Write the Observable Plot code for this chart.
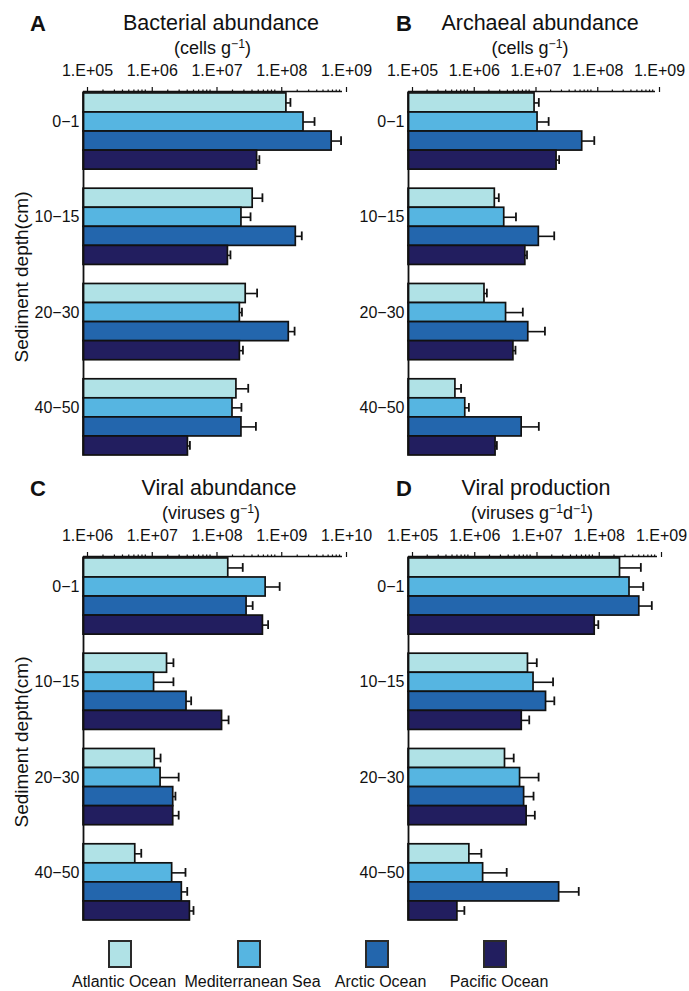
<!DOCTYPE html>
<html><head><meta charset="utf-8">
<script src="https://cdn.jsdelivr.net/npm/d3@7"></script>
<script src="https://cdn.jsdelivr.net/npm/@observablehq/plot@0.6"></script>
<style>
body{margin:0;background:#fff;font-family:"Liberation Sans",Arial,sans-serif;}
#page{position:relative;width:689px;height:991px;overflow:hidden;background:#fff;}
.abs{position:absolute;white-space:nowrap;line-height:1;color:#111;text-align:center;}
.abs sup{font-size:0.68em;vertical-align:0.5em;line-height:0;}
.plotbox{position:absolute;left:0;}
</style></head><body><div id="page"></div>
<script>
// ---- categories ----
const depths = ["0−1", "10−15", "20−30", "40−50"];
const oceans = ["Atlantic Ocean", "Mediterranean Sea", "Arctic Ocean", "Pacific Ocean"];
const oceanColors = ["#b0e2e6", "#56b5e1", "#2366ad", "#221e5f"];

// ---- tick values / labels ----
const decadesAB = [1e5, 1e6, 1e7, 1e8, 1e9];
const labelsAB = ["1.E+05", "1.E+06", "1.E+07", "1.E+08", "1.E+09"];
const decadesC = [1e6, 1e7, 1e8, 1e9, 1e10];
const labelsC = ["1.E+06", "1.E+07", "1.E+08", "1.E+09", "1.E+10"];
const decadesD = [1e5, 1e6, 1e7, 1e8, 1e9];
const labelsD = ["1.E+05", "1.E+06", "1.E+07", "1.E+08", "1.E+09"];

// ---- series values: rows = depth, columns = ocean (Atlantic, Mediterranean, Arctic, Pacific) ----
const bacteriaMean = [
  [1.36e8, 2.5e8, 6.8e8, 4.8e7],
  [4.1e7, 2.75e7, 1.9e8, 1.7e7],
  [3.2e7, 2.6e7, 1.48e8, 2.6e7],
  [2.3e7, 2.0e7, 2.75e7, 4.1e6]
];
const bacteriaErr = [
  [2.1e7, 1.2e8, 2.7e8, 4e6],
  [1.7e7, 1.05e7, 4.5e7, 1.6e6],
  [1.6e7, 2e6, 3.4e7, 3e6],
  [1.2e7, 7.5e6, 1.85e7, 3e5]
];
const archaeaMean = [
  [1.1e7, 1.23e7, 6.5e7, 2.5e7],
  [2.5e6, 3.55e6, 1.29e7, 7.8e6],
  [1.7e6, 3.8e6, 8.7e6, 5.0e6],
  [5.75e5, 8.3e5, 6.8e6, 2.57e6]
];
const archaeaErr = [
  [1.9e6, 6.3e6, 3.7e7, 2.5e6],
  [4e5, 1.95e6, 1.0e7, 5e5],
  [1.6e5, 3.3e6, 7.5e6, 4e5],
  [1.35e5, 1.2e5, 6.1e6, 1.3e5]
];
const virusMean = [
  [1.72e8, 6.5e8, 3.3e8, 5.9e8],
  [1.95e7, 1.23e7, 3.9e7, 1.38e8],
  [1.26e7, 1.55e7, 2.43e7, 2.43e7],
  [6.3e6, 2.34e7, 3.3e7, 4.4e7]
];
const virusErr = [
  [1.16e8, 4.2e8, 8e7, 1.2e8],
  [5e6, 1.22e7, 7e6, 3.6e7],
  [2.9e6, 1.4e7, 2e6, 5.2e6],
  [1.5e6, 1.42e7, 7e6, 6e6]
];
const productionMean = [
  [2.5e8, 3.55e8, 5.1e8, 9.8e7],
  [8.3e6, 1.02e7, 1.62e7, 6.6e6],
  [3.55e6, 6.2e6, 7.2e6, 7.9e6],
  [9.5e5, 1.58e6, 2.63e7, 6.1e5]
];
const productionErr = [
  [2.9e8, 2.35e8, 3.0e8, 1.4e7],
  [3.2e6, 1.08e7, 5.8e6, 2.1e6],
  [1.35e6, 6.1e6, 3.0e6, 2.8e6],
  [5.3e5, 2.2e6, 2.8e7, 1.8e5]
];

// ---- text ----
const panelLetters = ["A", "B", "C", "D"];
const panelTitles = ["Bacterial abundance", "Archaeal abundance", "Viral abundance", "Viral production"];
const panelUnits = ["(cells g<sup>−1</sup>)", "(cells g<sup>−1</sup>)", "(viruses g<sup>−1</sup>)", "(viruses g<sup>−1</sup>d<sup>−1</sup>)"];
const yAxisTitle = "Sediment depth(cm)";

const page = document.getElementById("page");
const FONT = "Liberation Sans, Arial, Helvetica, sans-serif";

function textAt(html, cx, baseline, fs, opts = {}) {
  const el = document.createElement("div");
  el.className = "abs";
  el.innerHTML = html;
  const w = 400;
  el.style.width = w + "px";
  el.style.left = (cx - w / 2) + "px";
  el.style.fontSize = fs + "px";
  el.style.top = (baseline - fs * 0.8465) + "px";
  if (opts.bold) el.style.fontWeight = "bold";
  page.appendChild(el);
  return el;
}

function panel(cfg) {
  const rows = [];
  depths.forEach((d, g) => oceans.forEach((o, i) => {
    rows.push({depth: d, ocean: o, idx: g * 5 + i, mean: cfg.mean[g][i], upper: cfg.mean[g][i] + cfg.err[g][i]});
  }));
  const xmin = cfg.decades[0];
  const minor = [];
  for (let k = 0; k < cfg.decades.length - 1; k++) for (let m = 2; m <= 9; m++) minor.push(cfg.decades[k] * m);
  const yTop = -0.1, yBottom = depths.length * 5 - 1;
  const svg = Plot.plot({
    width: 689, height: 400,
    marginTop: 31, marginBottom: 5, marginLeft: cfg.x0, marginRight: 689 - cfg.x1,
    style: {background: "transparent", overflow: "visible", fontFamily: FONT, color: "#111"},
    x: {type: "log", domain: [cfg.decades[0], cfg.decades[cfg.decades.length - 1]]},
    y: {domain: [yTop, yBottom], reverse: true},
    color: {domain: oceans, range: oceanColors},
    marks: [
      Plot.rect(rows, {x1: () => xmin, x2: "mean", y1: "idx", y2: d => d.idx + 1, fill: "ocean", stroke: "#111", strokeWidth: 1.7}),
      Plot.ruleY(rows, {x1: "mean", x2: "upper", y: d => d.idx + 0.5, stroke: "#111", strokeWidth: 1.6}),
      Plot.ruleX(rows, {x: "upper", y1: d => d.idx + 0.27, y2: d => d.idx + 0.73, stroke: "#111", strokeWidth: 1.8}),
      Plot.ruleX([xmin], {stroke: "#111", strokeWidth: 1.8}),
      Plot.ruleY([yTop], {stroke: "#111", strokeWidth: 1.5}),
      Plot.axisX({anchor: "top", ticks: minor, tickSize: 2.5, tickFormat: () => "", label: null, strokeWidth: 1.2}),
      Plot.axisX({anchor: "top", ticks: cfg.decades, tickSize: 5, tickPadding: 11, fontSize: 16, dx: 4,
        tickFormat: d => cfg.labels[cfg.decades.indexOf(d)], label: null, strokeWidth: 1.2}),
      Plot.axisY({anchor: "left", ticks: depths.map((d, g) => g * 5 + 1.5), tickSize: 0, tickPadding: 4, fontSize: 16,
        tickFormat: d => depths[Math.round((d - 1.5) / 5)], label: null})
    ]
  });
  const box = document.createElement("div");
  box.className = "plotbox";
  box.style.top = cfg.top + "px";
  box.appendChild(svg);
  page.appendChild(box);
}

panel({mean: bacteriaMean, err: bacteriaErr, decades: decadesAB, labels: labelsAB, x0: 83, x1: 342, top: 60});
panel({mean: archaeaMean, err: archaeaErr, decades: decadesAB, labels: labelsAB, x0: 408, x1: 655, top: 60});
panel({mean: virusMean, err: virusErr, decades: decadesC, labels: labelsC, x0: 83, x1: 342, top: 525});
panel({mean: productionMean, err: productionErr, decades: decadesD, labels: labelsD, x0: 408, x1: 657, top: 525});

// titles
const titlePos = [
  {letter: 38, title: 221, unit: 212.5, dy: 0},
  {letter: 404, title: 540, unit: 530, dy: 0},
  {letter: 38, title: 219, unit: 211, dy: 465},
  {letter: 404, title: 536, unit: 532, dy: 465}
];
titlePos.forEach((p, i) => {
  textAt(panelLetters[i], p.letter, 32 + p.dy, 22, {bold: true});
  textAt(panelTitles[i], p.title, 31 + p.dy, 21.5);
  textAt(panelUnits[i], p.unit, 54 + p.dy, 18);
});

// y axis titles
[277, 742].forEach(cy => {
  const el = document.createElement("div");
  el.className = "abs";
  el.textContent = yAxisTitle;
  el.style.fontSize = "19px";
  el.style.width = "260px";
  el.style.height = "20px";
  el.style.left = (22 - 130) + "px";
  el.style.top = (cy - 10) + "px";
  el.style.transform = "rotate(-90deg)";
  page.appendChild(el);
});

// legend
const legendCenters = [120, 248.5, 376.5, 495];
oceans.forEach((o, i) => {
  const sq = document.createElement("div");
  sq.style.cssText = `position:absolute;left:${legendCenters[i] - 12}px;top:940px;width:20px;height:24px;border:2px solid #2a2a2a;background:${oceanColors[i]};`;
  page.appendChild(sq);
  textAt(o, legendCenters[i] + 4, 988, 16);
});
</script></body></html>
